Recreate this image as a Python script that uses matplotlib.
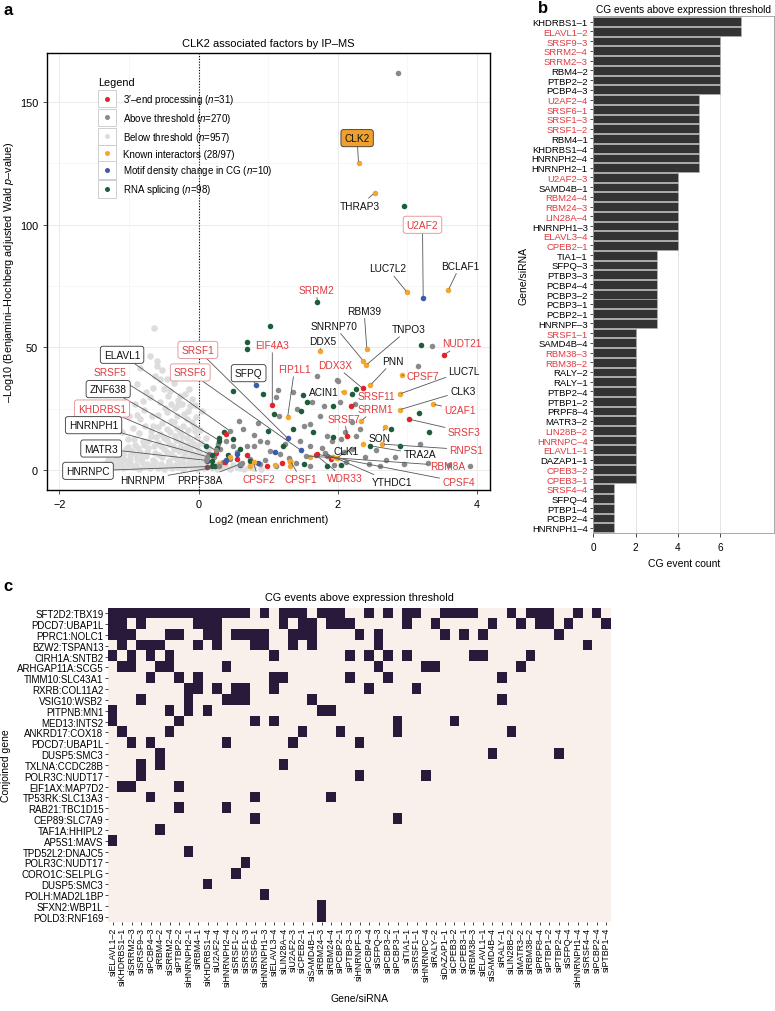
import numpy as np
import matplotlib.pyplot as plt
from matplotlib.colors import ListedColormap
from matplotlib.patches import Rectangle
from matplotlib.lines import Line2D
from matplotlib.legend_handler import HandlerBase
from matplotlib.collections import PathCollection
from matplotlib.ticker import MultipleLocator

plt.rcParams['font.family'] = ['Liberation Sans', 'DejaVu Sans']
plt.rcParams['mathtext.fontset'] = 'custom'
plt.rcParams['mathtext.it'] = 'Liberation Sans:italic'
plt.rcParams['mathtext.rm'] = 'Liberation Sans'

# ---------------- panel a data (log2 enrichment, -log10 padj) ----------------
below_pts = [
    (-1.52, 0.5), (-1.45, 1.0), (-1.38, 0.6), (-1.33, 1.5), (-1.27, 0.8), (-1.22, 2.0), (-1.17, 1.1),
    (-1.12, 2.6), (-1.08, 0.7), (-1.03, 1.8), (-0.98, 3.0), (-0.94, 1.2), (-0.90, 2.2), (-0.86, 0.5),
    (-0.82, 3.4), (-0.78, 1.6), (-0.74, 2.6), (-0.70, 0.9), (-0.66, 1.9), (-0.62, 3.1), (-0.58, 1.0),
    (-0.54, 2.3), (-0.50, 0.6), (-0.46, 1.6), (-0.42, 2.8), (-0.38, 0.9), (-0.34, 2.0), (-0.30, 1.2),
    (-0.26, 3.0), (-0.22, 0.5), (-0.18, 1.7), (-0.14, 2.6), (-0.10, 0.8), (-0.06, 1.9), (-0.02, 0.4),
    (0.03, 1.4), (0.08, 0.7), (0.14, 2.1), (0.20, 0.9), (0.27, 0.4), (0.35, 1.1), (0.45, 0.6),
    (0.55, 1.3), (0.66, 0.5), (0.78, 0.9), (0.90, 0.4),
    (-1.30, 4.2), (-1.20, 6.8), (-1.10, 5.0), (-1.05, 8.4), (-0.98, 6.1), (-0.92, 10.2), (-0.88, 4.6),
    (-0.84, 7.5), (-0.80, 12.0), (-0.76, 5.6), (-0.72, 9.0), (-0.68, 13.8), (-0.65, 4.0), (-0.62, 7.0),
    (-0.58, 11.0), (-0.55, 14.8), (-0.52, 5.2), (-0.49, 8.6), (-0.46, 12.4), (-0.43, 3.8), (-0.40, 6.4),
    (-0.37, 10.0), (-0.34, 14.0), (-0.31, 4.6), (-0.28, 7.8), (-0.25, 11.6), (-0.22, 5.4), (-0.19, 9.2),
    (-0.16, 13.0), (-0.13, 3.6), (-0.10, 6.8), (-0.07, 10.6), (-0.04, 4.8), (-0.01, 8.2), (0.03, 5.6),
    (0.07, 3.4), (0.12, 7.2), (0.18, 4.0),
    (-0.95, 17.0), (-0.84, 20.8), (-0.78, 24.5), (-0.75, 31.7), (-0.70, 29.6), (-0.70, 46.6), (-0.65, 18.1),
    (-0.64, 58.1), (-0.60, 44.5), (-0.60, 42.5), (-0.58, 22.5), (-0.55, 37.1), (-0.55, 27.6), (-0.50, 33.0),
    (-0.46, 23.5), (-0.46, 16.7), (-0.46, 37.1), (-0.41, 32.3), (-0.40, 27.0), (-0.36, 35.7), (-0.36, 19.5),
    (-0.31, 22.1), (-0.30, 26.5), (-0.27, 30.3), (-0.27, 15.4), (-0.22, 18.0), (-0.19, 31.0), (-0.17, 20.8),
    (-0.15, 24.0), (-0.12, 26.2), (-0.10, 28.9), (-0.07, 18.1), (-0.05, 15.8), (-0.03, 21.5), (0.02, 16.5),
    (0.05, 24.0), (-0.88, 35.0), (-0.84, 41.8), (-0.92, 27.0), (-1.00, 22.0), (-1.10, 15.5),
    (-1.48, 1.8), (-1.42, 0.3), (-1.36, 2.4), (-1.31, 3.0), (-1.25, 3.6), (-1.19, 4.8), (-1.14, 3.3),
    (-1.09, 6.5), (-1.06, 4.1), (-1.01, 9.5), (-0.99, 4.5), (-0.96, 7.8), (-0.93, 12.8), (-0.90, 6.0),
    (-0.87, 8.9), (-0.85, 15.0), (-0.82, 5.2), (-0.79, 10.3), (-0.77, 18.0), (-0.74, 7.2), (-0.72, 11.8),
    (-0.69, 16.0), (-0.67, 22.0), (-0.64, 9.8), (-0.61, 13.5), (-0.59, 17.5), (-0.57, 6.3), (-0.54, 9.8),
    (-0.52, 19.0), (-0.50, 13.0), (-0.48, 25.5), (-0.45, 7.5), (-0.43, 10.8), (-0.41, 15.6), (-0.39, 20.0),
    (-0.36, 5.5), (-0.35, 8.8), (-0.33, 12.2), (-0.31, 17.2), (-0.29, 28.5), (-0.26, 9.6), (-0.24, 13.8),
    (-0.23, 3.2), (-0.21, 22.8), (-0.20, 7.0), (-0.17, 10.4), (-0.15, 16.5), (-0.14, 5.0), (-0.12, 8.5),
    (-0.11, 12.0), (-0.09, 19.5), (-0.08, 3.0), (-0.05, 6.0), (-0.04, 10.0), (-0.02, 13.5), (0.00, 2.5),
    (0.01, 7.5), (0.04, 11.0), (0.06, 2.0), (0.09, 5.0), (0.10, 13.0), (0.15, 9.0), (0.16, 2.8),
    (0.22, 6.0), (0.24, 1.6), (0.30, 3.0), (0.38, 2.2), (0.50, 2.0), (0.60, 0.9), (0.72, 1.4),
    (-1.18, 9.0), (-1.02, 12.5), (-0.88, 22.5), (-0.80, 28.0), (-0.66, 33.5), (-0.62, 38.5), (-0.52, 41.0),
    (-0.44, 30.0), (-0.34, 25.5), (-0.24, 27.0), (-0.14, 33.0), (-0.05, 26.5),
]
above_pts = [
    (2.87, 162.0), (3.15, 42.5), (3.36, 50.4), (3.91, 1.8), (3.60, 2.2), (3.30, 2.8), (2.96, 2.4),
    (2.61, 1.8), (3.19, 10.6), (2.83, 5.5), (1.70, 38.4), (1.99, 36.8), (2.01, 36.4), (1.14, 32.6),
    (1.12, 29.6), (1.36, 31.7), (1.41, 24.9), (1.51, 18.0), (1.60, 18.7), (1.75, 22.1), (1.85, 14.0),
    (1.92, 11.9), (1.63, 27.6), (2.04, 27.6), (2.25, 26.9), (1.81, 26.2), (0.79, 9.9), (0.88, 11.9),
    (0.98, 11.3), (0.64, 16.7), (0.69, 9.9), (0.50, 9.9), (0.31, 8.6), (0.55, 7.2), (1.03, 7.9),
    (1.17, 6.5), (1.46, 11.9), (1.60, 9.9), (1.85, 5.8), (2.09, 7.2), (2.20, 8.6), (2.27, 14.0),
    (2.32, 16.7), (2.39, 5.2), (0.45, 4.5), (0.74, 4.5), (0.88, 2.4), (1.12, 1.8), (1.60, 1.8),
    (1.15, 22.1), (2.12, 3.2), (2.20, 19.5), (2.05, 12.5), (1.30, 5.0), (0.95, 4.0), (0.62, 3.0),
    (0.35, 3.5), (0.22, 5.5), (0.40, 12.0), (0.28, 10.5), (0.15, 6.5), (1.95, 2.0), (2.45, 2.5),
    (1.40, 3.0), (0.80, 14.5), (2.10, 15.5), (1.78, 9.0), (0.58, 20.0), (0.85, 19.0), (1.25, 10.5),
    (2.55, 8.0), (2.70, 4.0),
]
splicing_pts = [
    (2.96, 107.5), (1.02, 58.8), (0.69, 52.3), (0.69, 49.3), (3.20, 51.0), (2.76, 16.7), (3.31, 15.4),
    (3.17, 23.1), (1.50, 30.6), (1.08, 22.8), (1.48, 24.2), (1.94, 26.2), (2.20, 31.0), (0.49, 32.2),
    (0.93, 31.0), (1.56, 27.6), (1.36, 16.7), (1.65, 15.4), (0.36, 15.4), (0.50, 12.6), (0.26, 9.2),
    (0.60, 8.6), (0.74, 3.8), (0.24, 1.8), (1.21, 9.9), (1.51, 2.4), (2.27, 33.0), (1.94, 13.3),
    (0.10, 9.9), (0.19, 3.8), (2.05, 2.0), (2.90, 10.0), (0.42, 6.0), (1.00, 16.0), (0.30, 13.0),
    (1.85, 1.5),
]
end3_pts = [
    (0.40, 14.7), (0.55, 4.5), (0.98, 1.8), (1.32, 3.8), (0.12, 1.1), (0.38, 3.1), (0.70, 6.0),
    (1.20, 3.0), (0.25, 7.0), (1.90, 4.5),
]
known_pts = [
    (0.45, 5.2), (1.60, 5.2), (1.94, 5.2), (2.37, 10.6), (0.74, 1.8), (1.32, 1.8), (0.30, 2.5), (1.10, 2.0),
]
motif_pts = [
    (1.10, 7.5), (0.55, 6.5), (0.12, 3.8), (0.40, 4.0), (0.85, 3.0), (0.60, 2.2),
]

# labelled proteins: name, x, y, category
lab_names = ['CLK2', 'THRAP3', 'U2AF2', 'LUC7L2', 'BCLAF1', 'SRRM2', 'RBM39', 'SNRNP70', 'TNPO3',
             'DDX5', 'EIF4A3', 'NUDT21', 'PNN', 'CPSF7', 'LUC7L', 'FIP1L1', 'DDX3X', 'ACIN1',
             'SRSF11', 'SRRM1', 'CLK3', 'U2AF1', 'SRSF3', 'SRSF7', 'SON', 'RNPS1', 'TRA2A', 'CLK1',
             'RBM8A', 'CPSF4', 'YTHDC1', 'WDR33', 'CPSF1', 'CPSF2', 'SFPQ', 'SRSF1', 'SRSF6',
             'ELAVL1', 'SRSF5', 'ZNF638', 'KHDRBS1', 'HNRNPH1', 'MATR3', 'HNRNPC', 'HNRNPM', 'PRPF38A']
lab_x = [2.30, 2.53, 3.23, 3.00, 3.59, 1.71, 2.42, 2.37, 2.41,
         1.74, 1.06, 3.53, 2.47, 2.93, 2.89, 1.28, 2.36, 2.09,
         2.19, 2.34, 2.89, 3.37, 3.02, 2.14, 2.68, 2.64, 2.47, 1.99,
         1.55, 1.70, 1.82, 1.69, 1.32, 0.79, 0.83, 1.28, 1.47,
         0.45, 0.30, 0.25, 0.20, 0.12, 0.10, 0.20, 0.30, 0.60]
lab_y = [125.0, 113.0, 70.0, 72.4, 73.3, 68.6, 49.3, 44.5, 42.8,
         48.4, 26.5, 47.0, 34.6, 38.7, 31.0, 21.5, 33.3, 31.9,
         26.2, 20.1, 24.6, 26.9, 20.8, 14.0, 17.4, 10.6, 9.9, 4.9,
         5.8, 6.5, 6.8, 6.1, 3.8, 3.1, 34.6, 13.0, 8.1,
         16.0, 12.0, 8.0, 6.0, 5.5, 4.0, 1.5, 1.5, 2.5]
lab_cat = ['known', 'known', 'motif', 'known', 'known', 'splicing', 'known', 'known', 'known',
           'known', 'end3', 'end3', 'known', 'known', 'known', 'known', 'end3', 'known',
           'end3', 'known', 'known', 'known', 'end3', 'end3', 'known', 'known', 'splicing', 'known',
           'above', 'end3', 'above', 'end3', 'known', 'known', 'motif', 'motif', 'motif',
           'above', 'splicing', 'above', 'splicing', 'above', 'above', 'splicing', 'above', 'above']
red_names = {'SRSF5', 'SRSF1', 'SRSF6', 'KHDRBS1', 'U2AF2', 'SRRM2', 'EIF4A3', 'FIP1L1', 'DDX3X',
             'NUDT21', 'CPSF7', 'SRSF11', 'SRRM1', 'SRSF7', 'U2AF1', 'SRSF3', 'RNPS1', 'RBM8A',
             'CPSF4', 'WDR33', 'CPSF1', 'CPSF2'}
boxed_names = {'CLK2', 'U2AF2', 'ELAVL1', 'SRSF1', 'SRSF6', 'SFPQ', 'ZNF638', 'KHDRBS1',
               'HNRNPH1', 'MATR3', 'HNRNPC'}

legend_labels = ['3′–end processing ($n$=31)', 'Above threshold ($n$=270)', 'Below threshold ($n$=957)',
                 'Known interactors (28/97)', 'Motif density change in CG ($n$=10)', 'RNA splicing ($n$=98)']

# ---------------- panel b data ----------------
b_names = ['KHDRBS1–1', 'ELAVL1–2', 'SRSF9–3', 'SRRM2–4', 'SRRM2–3', 'RBM4–2', 'PTBP2–2', 'PCBP4–3',
           'U2AF2–4', 'SRSF6–1', 'SRSF1–3', 'SRSF1–2', 'RBM4–1', 'KHDRBS1–4', 'HNRNPH2–4', 'HNRNPH2–1',
           'U2AF2–3', 'SAMD4B–1', 'RBM24–4', 'RBM24–3', 'LIN28A–4', 'HNRNPH1–3', 'ELAVL3–4', 'CPEB2–1',
           'TIA1–1', 'SFPQ–3', 'PTBP3–3', 'PCBP4–4', 'PCBP3–2', 'PCBP3–1', 'PCBP2–1', 'HNRNPF–3',
           'SRSF1–1', 'SAMD4B–4', 'RBM38–3', 'RBM38–2', 'RALY–2', 'RALY–1', 'PTBP2–4', 'PTBP1–2',
           'PRPF8–4', 'MATR3–2', 'LIN28B–2', 'HNRNPC–4', 'ELAVL1–1', 'DAZAP1–1', 'CPEB3–2', 'CPEB3–1',
           'SRSF4–4', 'SFPQ–4', 'PTBP1–4', 'PCBP2–4', 'HNRNPH1–4']
b_counts = [7, 7, 6, 6, 6, 6, 6, 6,
            5, 5, 5, 5, 5, 5, 5, 5,
            4, 4, 4, 4, 4, 4, 4, 4,
            3, 3, 3, 3, 3, 3, 3, 3,
            2, 2, 2, 2, 2, 2, 2, 2, 2, 2, 2, 2, 2, 2, 2, 2,
            1, 1, 1, 1, 1]
b_red = {'ELAVL1–2', 'SRSF9–3', 'SRRM2–4', 'SRRM2–3', 'U2AF2–4', 'SRSF6–1', 'SRSF1–3', 'SRSF1–2',
         'U2AF2–3', 'RBM24–4', 'RBM24–3', 'LIN28A–4', 'ELAVL3–4', 'CPEB2–1', 'SRSF1–1', 'RBM38–3',
         'RBM38–2', 'LIN28B–2', 'HNRNPC–4', 'ELAVL1–1', 'CPEB3–2', 'CPEB3–1', 'SRSF4–4'}

# ---------------- panel c data ----------------
c_rows = ['SFT2D2:TBX19', 'PDCD7:UBAP1L', 'PPRC1:NOLC1', 'BZW2:TSPAN13', 'CIRH1A:SNTB2',
          'ARHGAP11A:SCG5', 'TIMM10:SLC43A1', 'RXRB:COL11A2', 'VSIG10:WSB2', 'PITPNB:MN1',
          'MED13:INTS2', 'ANKRD17:COX18', 'PDCD7:UBAP1L', 'DUSP5:SMC3', 'TXLNA:CCDC28B',
          'POLR3C:NUDT17', 'EIF1AX:MAP7D2', 'TP53RK:SLC13A3', 'RAB21:TBC1D15', 'CEP89:SLC7A9',
          'TAF1A:HHIPL2', 'AP5S1:MAVS', 'TPD52L2:DNAJC5', 'POLR3C:NUDT17', 'CORO1C:SELPLG',
          'DUSP5:SMC3', 'POLH:MAD2L1BP', 'SFXN2:WBP1L', 'POLD3:RNF169']
c_cols = ['siELAVL1–2', 'siKHDRBS1–1', 'siSRRM2–3', 'siSRSF9–3', 'siPCBP4–3', 'siRBM4–2', 'siSRRM2–4',
          'siPTBP2–2', 'siHNRNPH2–1', 'siRBM4–1', 'siKHDRBS1–4', 'siU2AF2–4', 'siHNRNPH2–4', 'siSRSF1–2',
          'siSRSF1–3', 'siSRSF6–1', 'siHNRNPH1–3', 'siELAVL3–4', 'siLIN28A–4', 'siU2AF2–3', 'siCPEB2–1',
          'siSAMD4B–1', 'siRBM24–3', 'siRBM24–4', 'siPCBP2–1', 'siPTBP3–3', 'siHNRNPF–3', 'siPCBP4–4',
          'siSFPQ–3', 'siPCBP3–2', 'siPCBP3–1', 'siTIA1–1', 'siSRSF1–1', 'siHNRNPC–4', 'siRALY–2',
          'siDAZAP1–1', 'siCPEB3–2', 'siCPEB3–1', 'siRBM38–3', 'siELAVL1–1', 'siSAMD4B–4', 'siRALY–1',
          'siLIN28B–2', 'siMATR3–2', 'siRBM38–2', 'siPRPF8–4', 'siPTBP1–2', 'siPTBP2–4', 'siSFPQ–4',
          'siHNRNPH1–4', 'siSRSF4–4', 'siPCBP2–4', 'siPTBP1–4']
c_hits = [
    [0, 1, 2, 3, 4, 5, 6, 7, 8, 9, 10, 11, 12, 13, 14, 16, 18, 19, 20, 22, 23, 24, 27, 29, 31, 32,
     35, 36, 37, 38, 42, 44, 45, 46, 49, 51],
    [0, 1, 3, 9, 10, 11, 18, 20, 21, 23, 24, 25, 31, 34, 40, 43, 45, 46, 48, 52],
    [0, 1, 2, 6, 7, 10, 11, 13, 14, 15, 16, 19, 20, 21, 26, 28, 35, 37, 39, 47],
    [1, 3, 4, 5, 9, 11, 15, 16, 19, 21, 28, 50],
    [0, 2, 4, 6, 17, 25, 27, 29, 31, 38, 39, 44],
    [1, 2, 5, 6, 12, 28, 33, 34, 43],
    [4, 7, 9, 17, 18, 25, 29, 41],
    [8, 9, 11, 13, 14, 17, 27, 32],
    [3, 8, 12, 13, 14, 21, 41],
    [0, 6, 8, 10, 22, 23],
    [0, 7, 15, 17, 30, 36],
    [1, 6, 20, 24, 30, 42],
    [2, 4, 12, 19, 26],
    [5, 40, 47],
    [3, 5, 18],
    [3, 26, 33],
    [1, 2, 7],
    [4, 15, 23],
    [7, 12],
    [15, 30],
    [5],
    [0],
    [8],
    [14],
    [13],
    [10],
    [16],
    [22],
    [22],
]

# ---------------- style ----------------
RED_TXT = '#e0393e'
cat_color = {'end3': '#e3232b', 'above': '#8a8a8a', 'below': '#dddddd',
             'known': '#f2a72e', 'motif': '#3d5ba8', 'splicing': '#1d5e3a'}

fig = plt.figure(figsize=(7.75, 10.12), dpi=100)


class KeyBox(HandlerBase):
    def create_artists(self, legend, orig_handle, xdescent, ydescent, width, height, fontsize, trans):
        side = fontsize * 1.78
        cx = width / 2 - xdescent
        cy = height / 2 - ydescent
        box = Rectangle((cx - side / 2, cy - side / 2), side, side, facecolor='white',
                        edgecolor='#c8c8c8', lw=0.6, transform=trans)
        dot = Line2D([cx], [cy], marker='o', linestyle='', markersize=3.6,
                     markerfacecolor=orig_handle.get_facecolor()[0], markeredgewidth=0,
                     transform=trans)
        return [box, dot]


# ================= panel a =================
ax = fig.add_axes([0.0606, 0.5151, 0.5716, 0.4315])
ax.set_xlim(-2.18, 4.19)
ax.set_ylim(-8, 170)
ax.xaxis.set_major_locator(MultipleLocator(2))
ax.xaxis.set_minor_locator(MultipleLocator(1))
ax.yaxis.set_major_locator(MultipleLocator(50))
ax.yaxis.set_minor_locator(MultipleLocator(25))
ax.grid(True, which='major', color='#ebebeb', lw=0.7)
ax.grid(True, which='minor', color='#f4f4f4', lw=0.5)
ax.set_axisbelow(True)
ax.tick_params(which='minor', length=0)
ax.tick_params(which='major', labelsize=7.8, length=3, width=0.6, color='#333333')
for s in ax.spines.values():
    s.set_linewidth(1.0)
ax.axvline(0, color='black', ls=(0, (1, 1.5)), lw=0.8, zorder=1)

handles = {}
series = [('below', below_pts), ('above', above_pts), ('splicing', splicing_pts),
          ('end3', end3_pts), ('known', known_pts), ('motif', motif_pts)]
for cat, pts in series:
    arr = np.array(pts)
    handles[cat] = ax.scatter(arr[:, 0], arr[:, 1], s=22 if cat == 'below' else 16,
                              color=cat_color[cat], linewidths=0, zorder=2 if cat == 'below' else 3)
for cat in ['above', 'splicing', 'end3', 'known', 'motif']:
    xs = [x for x, c in zip(lab_x, lab_cat) if c == cat]
    ys = [y for y, c in zip(lab_y, lab_cat) if c == cat]
    ax.scatter(xs, ys, s=16, color=cat_color[cat], linewidths=0, zorder=4)

label_pos = {
    'CLK2': (2.28, 135.3), 'THRAP3': (2.32, 107.7), 'U2AF2': (3.22, 100.0), 'LUC7L2': (2.72, 82.2),
    'BCLAF1': (3.76, 83.3), 'SRRM2': (1.69, 73.5), 'RBM39': (2.38, 65.0), 'SNRNP70': (1.95, 58.8),
    'TNPO3': (3.02, 57.5), 'DDX5': (1.79, 52.7), 'EIF4A3': (1.06, 51.0), 'NUDT21': (3.79, 51.7),
    'PNN': (2.80, 44.5), 'CPSF7': (3.22, 38.4), 'LUC7L': (3.82, 40.5), 'FIP1L1': (1.38, 41.2),
    'DDX3X': (1.96, 42.8), 'ACIN1': (1.80, 31.7), 'SRSF11': (2.55, 30.0), 'SRRM1': (2.54, 24.9),
    'CLK3': (3.80, 32.3), 'U2AF1': (3.76, 24.4), 'SRSF3': (3.82, 15.6), 'SRSF7': (2.09, 21.0),
    'SON': (2.61, 12.9), 'RNPS1': (3.85, 8.3), 'TRA2A': (3.18, 6.5), 'CLK1': (2.12, 7.6),
    'RBM8A': (3.58, 1.8), 'CPSF4': (3.74, -4.8), 'YTHDC1': (2.78, -5.0), 'WDR33': (2.10, -3.4),
    'CPSF1': (1.47, -3.7), 'CPSF2': (0.86, -3.7), 'SFPQ': (0.72, 39.5), 'SRSF1': (-0.01, 49.0),
    'SRSF6': (-0.12, 39.8), 'ELAVL1': (-1.10, 47.0), 'SRSF5': (-1.28, 39.8), 'ZNF638': (-1.30, 33.0),
    'KHDRBS1': (-1.39, 25.1), 'HNRNPH1': (-1.51, 18.3), 'MATR3': (-1.40, 8.8), 'HNRNPC': (-1.59, -0.3),
    'HNRNPM': (-0.80, -3.9), 'PRPF38A': (0.02, -3.9),
}
for name, px, py in zip(lab_names, lab_x, lab_y):
    tx, ty = label_pos[name]
    red = name in red_names
    tcol = RED_TXT if red else '#111111'
    bbox = None
    if name == 'CLK2':
        bbox = dict(boxstyle='round,pad=0.35,rounding_size=0.25', fc='#f0a02c', ec='#333333', lw=0.6)
    elif name in boxed_names:
        bbox = dict(boxstyle='round,pad=0.35,rounding_size=0.25', fc='white',
                    ec='#e58a8c' if red else '#333333', lw=0.6)
    ax.annotate(name, xy=(px, py), xytext=(tx, ty), fontsize=7.3, color=tcol,
                ha='center', va='center', bbox=bbox, zorder=6,
                arrowprops=dict(arrowstyle='-', color='#555555', lw=0.6, shrinkA=0, shrinkB=1.5))

order = ['end3', 'above', 'below', 'known', 'motif', 'splicing']
leg = ax.legend([handles[k] for k in order], legend_labels, loc='upper left',
                bbox_to_anchor=(0.095, 0.965), frameon=False, fontsize=7, title='Legend',
                title_fontsize=7.8, alignment='left', handlelength=1.9, handleheight=1.0,
                labelspacing=0.5, handletextpad=0.7,
                handler_map={PathCollection: KeyBox()})

ax.set_title('CLK2 associated factors by IP–MS', fontsize=8, pad=5)
ax.set_xlabel('Log2 (mean enrichment)', fontsize=7.8, labelpad=4)
ax.set_ylabel('–Log10 (Benjamini–Hochberg adjusted Wald $p$–value)', fontsize=7.8, labelpad=3)

# ================= panel b =================
bx = fig.add_axes([0.7655, 0.4723, 0.2332, 0.5106])
yy = np.arange(len(b_names))
bx.barh(yy, b_counts, height=0.9, color='#333333', edgecolor='#b5b5b5', lw=0.4, zorder=3)
bx.set_ylim(len(b_names) - 0.45, -0.55)
bx.set_xlim(0, 8.55)
bx.set_xticks([0, 2, 4, 6])
bx.set_yticks(yy)
bx.set_yticklabels(b_names)
for lab in bx.get_yticklabels():
    if lab.get_text() in b_red:
        lab.set_color(RED_TXT)
bx.tick_params(axis='y', labelsize=6.8, length=2.5, width=0.5, pad=1.5)
bx.tick_params(axis='x', labelsize=7.2, length=3, width=0.5)
bx.grid(True, axis='x', color='#e4e4e4', lw=0.7)
bx.set_axisbelow(True)
for s in bx.spines.values():
    s.set_color('#9a9a9a')
    s.set_linewidth(0.6)
bx.set_title('CG events above expression threshold', fontsize=7.3, pad=3)
bx.set_xlabel('CG event count', fontsize=7.5, labelpad=4)
bx.set_ylabel('Gene/siRNA', fontsize=7.5, labelpad=2)

# ================= panel c =================
cx = fig.add_axes([0.1397, 0.0880, 0.6487, 0.3103])
mat = np.zeros((len(c_rows), len(c_cols)))
for i, cols in enumerate(c_hits):
    mat[i, cols] = 1
cx.imshow(mat, cmap=ListedColormap(['#f9f0eb', '#291a3b']), aspect='auto', interpolation='nearest')
cx.set_xticks(np.arange(len(c_cols)))
cx.set_xticklabels(c_cols, rotation=90, fontsize=6.4)
cx.set_yticks(np.arange(len(c_rows)))
cx.set_yticklabels(c_rows, fontsize=7)
cx.tick_params(length=2, width=0.5, pad=1.5)
for s in cx.spines.values():
    s.set_visible(False)
cx.set_title('CG events above expression threshold', fontsize=7.8, pad=6)
cx.set_xlabel('Gene/siRNA', fontsize=7.5, labelpad=5)
cx.set_ylabel('Conjoined gene', fontsize=7.5, labelpad=4)

# panel letters
fig.text(0.004, 0.997, 'a', fontsize=12, fontweight='bold', va='top')
fig.text(0.694, 0.999, 'b', fontsize=12, fontweight='bold', va='top')
fig.text(0.004, 0.428, 'c', fontsize=12, fontweight='bold', va='top')

fig.savefig('out.png', dpi=100)
